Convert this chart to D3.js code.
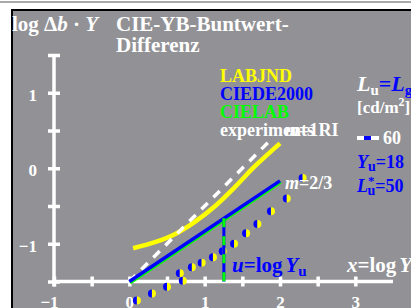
<!DOCTYPE html>
<html>
<head>
<meta charset="utf-8">
<script src="https://cdn.jsdelivr.net/npm/d3@7"></script>
<style>
  body { margin: 0; background: #fff; }
  svg text { font-family: "Liberation Serif", "DejaVu Serif", serif; font-weight: bold; }
</style>
</head>
<body>
<script>
const w = 411;
const h = 308;

// axis ticks (log units)
const xTickValues = [-1, -0.5, 0, 0.5, 1, 1.5, 2, 2.5, 3];
const yTickValues = [-1.5, -1, -0.5, 0, 0.5, 1, 1.5];
const labeledTicks = [-1, 0, 1, 2, 3];

// LABJND curve (yellow)
const labjndX = [0.05, 0.34, 0.61, 0.87, 1.14, 1.40, 1.67, 2.00];
const labjndY = [-1.06, -0.98, -0.87, -0.71, -0.50, -0.25, 0.03, 0.33];

// slope lines: m=1 (white dashed) and m=2/3 (blue, CIEDE2000 / CIELAB)
const m1X = [0, 1.9];
const m1Y = [-1.5, 0.4];
const m23X = [0, 2.0];
const m23Y = [-1.5, -0.167];

// u = log Yu, Yu = 18
const uValue = 1.255;
const uTop = -0.663;

// experiment points RI
const expX = [0.10, 0.30, 0.50, 0.67, 0.71, 0.83, 0.96, 1.11, 1.24, 1.39, 1.55, 1.70, 1.88, 2.09, 2.30];
const expY = [-1.75, -1.66, -1.57, -1.39, -1.49, -1.31, -1.25, -1.18, -1.10, -1.00, -0.86, -0.74, -0.57, -0.40, -0.13];

const svg = d3.select("body").append("svg")
    .attr("width", w)
    .attr("height", h);

// frame
svg.append("line").attr("x1", 0).attr("x2", w).attr("y1", 2).attr("y2", 2)
    .attr("stroke", "#555").attr("stroke-width", 1);
svg.append("rect").attr("x", 12).attr("y", 10).attr("width", w).attr("height", h)
    .attr("fill", "#929296").attr("stroke", "#000").attr("stroke-width", 2);

const xScale = d3.scaleLinear().domain([-1, 3.5]).range([54, 393]);
const yScale = d3.scaleLinear().domain([-1.5, 1.5]).range([281.5, 55]);

const fmt = d => labeledTicks.includes(d) ? d3.format("d")(d) : "";

// x axis
const gx = svg.append("g")
    .attr("transform", `translate(0, ${yScale(-1.5)})`)
    .call(d3.axisBottom(xScale).tickValues(xTickValues).tickFormat(fmt).tickSizeOuter(0));
gx.select(".domain").attr("d", `M${xScale(-1)},0H${xScale(3.5)}`)
    .attr("stroke", "#fff").attr("stroke-width", 3.5);
gx.selectAll(".tick line").attr("y1", -5).attr("y2", 5)
    .attr("stroke", "#fff").attr("stroke-width", 3.5);
gx.selectAll(".tick text").attr("y", 26).attr("dy", null)
    .attr("dx", d => d < 0 ? -5 : 0)
    .attr("fill", "#fff").attr("font-size", 17)
    .attr("font-family", "'Liberation Serif', serif").attr("font-weight", "bold");

// y axis
const gy = svg.append("g")
    .attr("transform", `translate(${xScale(-1)}, 0)`)
    .call(d3.axisLeft(yScale).tickValues(yTickValues).tickFormat(fmt).tickSizeOuter(0));
gy.select(".domain").attr("d", `M0,${yScale(1.5)}V${yScale(-1.5) + 5}`)
    .attr("stroke", "#fff").attr("stroke-width", 3.5);
gy.selectAll(".tick line").attr("x1", -6).attr("x2", 6)
    .attr("stroke", "#fff").attr("stroke-width", 3.5);
gy.selectAll(".tick text").attr("x", -17).attr("dy", "0.45em")
    .attr("fill", "#fff").attr("font-size", 17)
    .attr("font-family", "'Liberation Serif', serif").attr("font-weight", "bold");

const line = d3.line().x(d => xScale(d[0])).y(d => yScale(d[1]));

// LABJND
svg.append("path")
    .datum(labjndX.map((x, i) => [x, labjndY[i]]))
    .attr("d", line.curve(d3.curveCatmullRom))
    .attr("fill", "none").attr("stroke", "#ffff00").attr("stroke-width", 4.5);
line.curve(d3.curveLinear);

// m=1 white dashed
svg.append("path")
    .datum(m1X.map((x, i) => [x, m1Y[i]]))
    .attr("d", line)
    .attr("fill", "none").attr("stroke", "#fff").attr("stroke-width", 3.5)
    .attr("stroke-dasharray", "9,8");

// m=2/3 green (CIELAB) under blue (CIEDE2000)
svg.append("path")
    .datum(m23X.map((x, i) => [x, m23Y[i]]))
    .attr("d", line)
    .attr("transform", "translate(0.8, 1.4)")
    .attr("fill", "none").attr("stroke", "#00ff00").attr("stroke-width", 3);
svg.append("path")
    .datum(m23X.map((x, i) => [x, m23Y[i]]))
    .attr("d", line)
    .attr("fill", "none").attr("stroke", "#0000ff").attr("stroke-width", 3.5);

// experiment points (half blue, half yellow)
const arcLeft = d3.arc().innerRadius(0).outerRadius(4).startAngle(Math.PI).endAngle(2 * Math.PI);
const arcRight = d3.arc().innerRadius(0).outerRadius(4).startAngle(0).endAngle(Math.PI);
const pts = svg.selectAll("g.pt")
    .data(expX.map((x, i) => [x, expY[i]]))
    .enter().append("g")
    .attr("class", "pt")
    .attr("transform", d => `translate(${xScale(d[0])}, ${yScale(d[1])})`);
pts.append("path").attr("d", arcLeft()).attr("fill", "#0000ff");
pts.append("path").attr("d", arcRight()).attr("fill", "#ffff00");

// vertical u = log Yu
svg.append("line")
    .attr("x1", xScale(uValue)).attr("x2", xScale(uValue))
    .attr("y1", yScale(uTop)).attr("y2", yScale(-1.5))
    .attr("stroke", "#0000ff").attr("stroke-width", 3);
svg.append("line")
    .attr("x1", xScale(uValue)).attr("x2", xScale(uValue))
    .attr("y1", yScale(uTop)).attr("y2", yScale(-1.5))
    .attr("stroke", "#00ff00").attr("stroke-width", 3)
    .attr("stroke-dasharray", "9,9");

// titles
const t1 = svg.append("text").attr("x", 12).attr("y", 31).attr("font-size", 21).attr("fill", "#fff");
t1.append("tspan").text("log Δ");
t1.append("tspan").attr("font-style", "italic").text("b");
t1.append("tspan").text(" · ");
t1.append("tspan").attr("font-style", "italic").text("Y");
svg.append("text").attr("x", 116).attr("y", 31).attr("font-size", 21).attr("fill", "#fff").text("CIE-YB-Buntwert-");
svg.append("text").attr("x", 116).attr("y", 52).attr("font-size", 21).attr("fill", "#fff").text("Differenz");

// legend
const legend = [
    { text: "LABJND", color: "#ffff00", y: 82 },
    { text: "CIEDE2000", color: "#0000ff", y: 100 },
    { text: "CIELAB", color: "#00ff00", y: 118 },
    { text: "experiments RI", color: "#fff", y: 136 }
];
svg.selectAll("text.leg").data(legend).enter().append("text")
    .attr("class", "leg")
    .attr("x", 220).attr("y", d => d.y)
    .attr("font-size", 18).attr("fill", d => d.color)
    .text(d => d.text);

// slope labels
const mk = (x, y, val) => {
    const t = svg.append("text").attr("x", x).attr("y", y).attr("font-size", 18).attr("fill", "#fff");
    t.append("tspan").attr("font-style", "italic").text("m");
    t.append("tspan").text("=" + val);
};
mk(285, 136, "1");
mk(285, 189, "2/3");

// right side info
const lu = svg.append("text").attr("x", 357).attr("y", 91).attr("font-size", 22).attr("fill", "#fff");
lu.append("tspan").attr("font-style", "italic").text("L");
lu.append("tspan").attr("font-size", 15).attr("dy", 4).text("u");
lu.append("tspan").attr("dy", -4).attr("fill", "#0000ff").text("=");
lu.append("tspan").attr("font-style", "italic").attr("fill", "#0000ff").text("L");
lu.append("tspan").attr("font-size", 15).attr("dy", 4).attr("fill", "#0000ff").text("g");

const cd = svg.append("text").attr("x", 357).attr("y", 113).attr("font-size", 17).attr("fill", "#fff");
cd.append("tspan").text("[cd/m");
cd.append("tspan").attr("font-size", 12).attr("dy", -7).text("2");
cd.append("tspan").attr("dy", 7).text("]");

svg.append("line").attr("x1", 357).attr("x2", 379).attr("y1", 138).attr("y2", 138)
    .attr("stroke", "#fff").attr("stroke-width", 4);
svg.append("line").attr("x1", 364).attr("x2", 371).attr("y1", 138).attr("y2", 138)
    .attr("stroke", "#0000ff").attr("stroke-width", 4);
svg.append("text").attr("x", 383).attr("y", 144).attr("font-size", 18).attr("fill", "#fff").text("60");

const yu = svg.append("text").attr("x", 357).attr("y", 168).attr("font-size", 18).attr("fill", "#0000ff");
yu.append("tspan").attr("font-style", "italic").text("Y");
yu.append("tspan").attr("font-size", 14).attr("dy", 3).text("u");
yu.append("tspan").attr("dy", -3).text("=18");

const ls = svg.append("text").attr("x", 357).attr("y", 192).attr("font-size", 18).attr("fill", "#0000ff");
ls.append("tspan").attr("font-style", "italic").text("L");
ls.append("tspan").attr("font-size", 13).attr("dy", -7).text("*");
ls.append("tspan").attr("font-size", 14).attr("dx", -7).attr("dy", 10).text("u");
ls.append("tspan").attr("dy", -3).text("=50");

// axis names
const ul = svg.append("text").attr("x", 232).attr("y", 272).attr("font-size", 21).attr("fill", "#0000ff");
ul.append("tspan").attr("font-style", "italic").text("u");
ul.append("tspan").text("=log");
ul.append("tspan").attr("font-style", "italic").attr("dx", 3).text("Y");
ul.append("tspan").attr("font-size", 15).attr("dy", 4).text("u");

const xl = svg.append("text").attr("x", 347).attr("y", 272).attr("font-size", 21).attr("fill", "#fff");
xl.append("tspan").attr("font-style", "italic").text("x");
xl.append("tspan").text("=log");
xl.append("tspan").attr("font-style", "italic").attr("dx", 3).text("Y");
</script>
</body>
</html>
